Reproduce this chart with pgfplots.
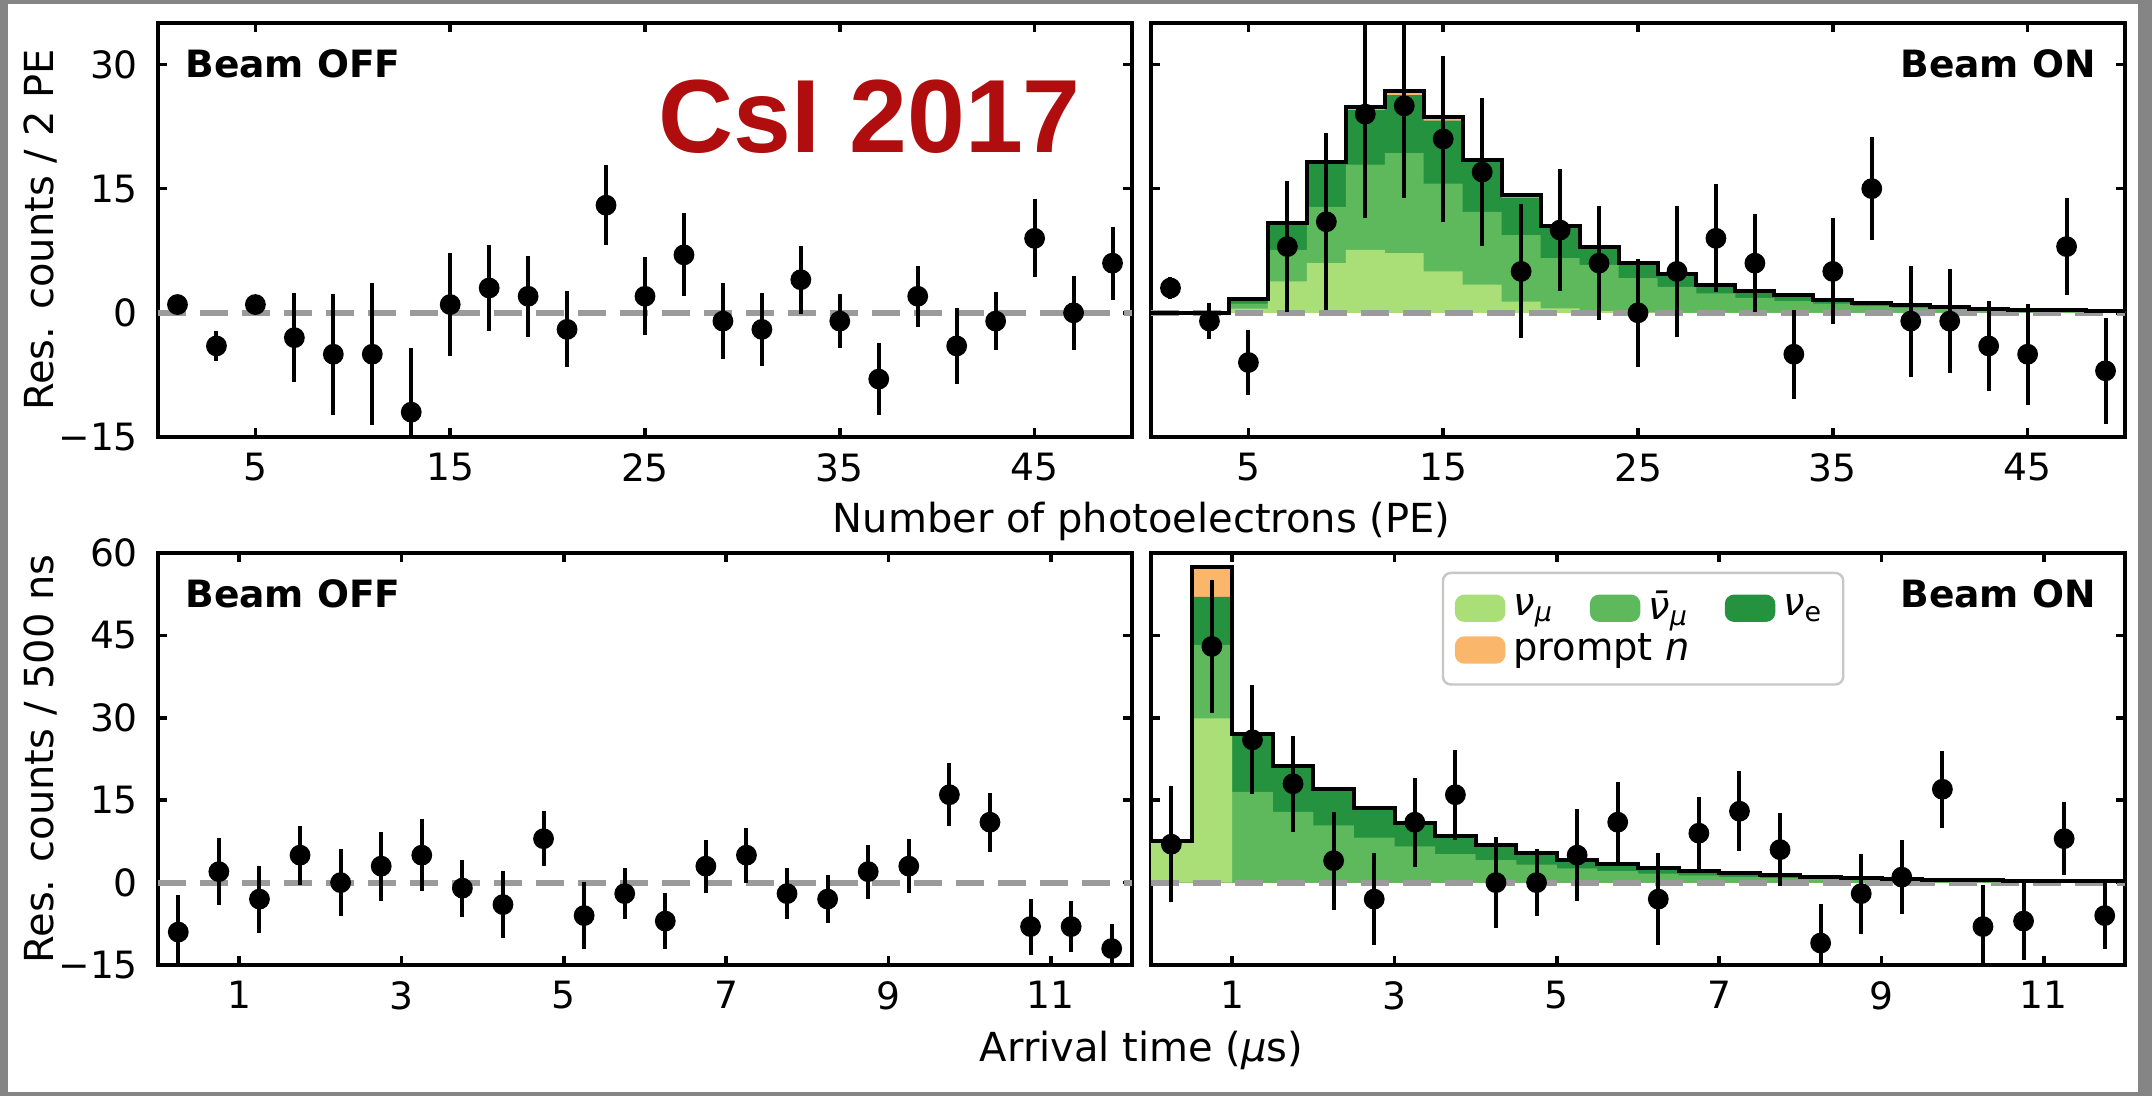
\documentclass[border=0pt]{standalone}
\usepackage{pgfplots}
\pgfplotsset{compat=1.18}
\usepackage{pgfplotstable}
\usepackage{fontspec}
\setmainfont{DejaVu Sans}
\newfontfamily\csifont{Liberation Sans}

\definecolor{clight}{RGB}{170,222,118}
\definecolor{cmed}{RGB}{94,185,92}
\definecolor{cdark}{RGB}{36,146,62}
\definecolor{corange}{RGB}{250,183,108}
\definecolor{csired}{RGB}{176,14,14}
\definecolor{zeroline}{RGB}{155,155,155}

% Beam OFF, PE
\pgfplotstableread{
x y e
1 1 0.8
3 -4 1.8
5 1 0.8
7 -3 5.4
9 -5 7.3
11 -5 8.6
13 -12 7.7
15 1 6.2
17 3 5.2
19 2 4.9
21 -2 4.6
23 13 4.8
25 2 4.7
27 7 5.0
29 -1 4.6
31 -2 4.4
33 4 4.1
35 -1 3.3
37 -8 4.4
39 2 3.7
41 -4 4.6
43 -1 3.5
45 9 4.7
47 0 4.5
49 6 4.4
}\offPE

% Beam ON, PE
\pgfplotstableread{
x y e
1 3 1.3
3 -1 2.2
5 -6 3.9
7 8 7.9
9 11 10.7
11 24 12.6
13 25 11.1
15 21 10.0
17 17 8.9
19 5 8.1
21 10 7.4
23 6 6.9
25 0 6.5
27 5 7.9
29 9 6.5
31 6 5.9
33 -5 5.4
35 5 6.4
37 15 6.2
39 -1 6.7
41 -1 6.3
43 -4 5.4
45 -5 6.1
47 8 5.9
49 -7 6.4
}\onPE

% Beam OFF, time
\pgfplotstableread{
x y e
0.25 -9 6.7
0.75 2 6.1
1.25 -3 6.1
1.75 5 5.4
2.25 0 6.1
2.75 3 6.3
3.25 5 6.5
3.75 -1 5.2
4.25 -4 6.1
4.75 8 5.0
5.25 -6 6.1
5.75 -2 4.6
6.25 -7 5.1
6.75 3 4.8
7.25 5 5.0
7.75 -2 4.7
8.25 -3 4.3
8.75 2 4.9
9.25 3 4.9
9.75 16 5.7
10.25 11 5.4
10.75 -8 5.1
11.25 -8 4.6
11.75 -12 4.5
}\offT

% Beam ON, time
\pgfplotstableread{
x y e
0.25 7 10.5
0.75 43 12.1
1.25 26 9.9
1.75 18 8.7
2.25 4 8.9
2.75 -3 8.4
3.25 11 8.1
3.75 16 8.2
4.25 0 8.3
4.75 0 6.1
5.25 5 8.4
5.75 11 7.4
6.25 -3 8.4
6.75 9 6.6
7.25 13 7.3
7.75 6 6.6
8.25 -11 7.1
8.75 -2 7.3
9.25 1 6.8
9.75 17 7.0
10.25 -8 7.5
10.75 -7 7.0
11.25 8 6.7
11.75 -6 6.0
}\onT

% stacked prediction, PE (cumulative tops of each layer, bin left edges)
\pgfplotstableread{
x L M D T
0 0 0 0 0
2 0 0 0 0
4 0.5 1.1 1.65 1.7
6 3.8 7.6 10.7 10.8
8 6.0 12.8 18.0 18.2
10 7.6 17.9 24.5 24.9
12 7.2 19.3 26.3 26.8
14 5.0 15.6 23.2 23.6
16 3.4 12.2 18.2 18.5
18 1.35 9.4 13.9 14.2
20 0.55 6.6 10.3 10.5
22 0.2 5.8 7.9 8.0
24 0.05 4.2 6.0 6.05
26 0 3.15 4.65 4.7
28 0 2.35 3.35 3.4
30 0 1.8 2.6 2.6
32 0 1.45 2.1 2.1
34 0 1.1 1.6 1.6
36 0 0.82 1.2 1.2
38 0 0.62 0.9 0.9
40 0 0.48 0.7 0.7
42 0 0.35 0.5 0.5
44 0 0.26 0.38 0.38
46 0 0.2 0.29 0.29
48 0 0.14 0.2 0.2
50 0 0.14 0.2 0.2
}\histPE

% stacked prediction, time
\pgfplotstableread{
x L M D T
0 7.6 7.6 7.6 7.6
0.5 29.9 43.3 52.0 57.4
1.0 0 16.5 27.0 27.0
1.5 0 12.9 21.2 21.2
2.0 0 10.4 17.0 17.0
2.5 0 8.2 13.5 13.5
3.0 0 6.6 10.8 10.8
3.5 0 5.2 8.5 8.5
4.0 0 4.1 6.8 6.8
4.5 0 3.3 5.4 5.4
5.0 0 2.6 4.2 4.2
5.5 0 2.1 3.4 3.4
6.0 0 1.65 2.7 2.7
6.5 0 1.3 2.1 2.1
7.0 0 1.05 1.7 1.7
7.5 0 0.82 1.35 1.35
8.0 0 0.64 1.05 1.05
8.5 0 0.52 0.85 0.85
9.0 0 0.41 0.67 0.67
9.5 0 0.32 0.53 0.53
10.0 0 0.26 0.42 0.42
10.5 0 0.2 0.33 0.33
11.0 0 0.16 0.26 0.26
11.5 0 0.13 0.21 0.21
12.0 0 0.13 0.21 0.21
}\histT

\pgfplotsset{
  panel/.style={
    scale only axis, width=243.5pt, height=103.5pt,
    anchor=south west,
    axis line style={line width=1pt},
    tick align=inside, xtick pos=both, ytick pos=both,
    major tick length=2.2pt,
    every tick/.style={black, line width=0.9pt},
    tick label style={font=\fontsize{9.4}{11}\selectfont},
    yticklabel style={xshift=-1.5pt},
    xticklabel style={yshift=-0.6pt},
  },
  pts/.style={only marks, mark=*, mark size=2.4pt, black, forget plot,
    mark options={draw=none, fill=black},
    error bars/.cd, y dir=both, y explicit, error mark=none,
    error bar style={line width=1pt, black}},
  zero/.style={zeroline, line width=1.5pt, dash pattern=on 7pt off 3.5pt, forget plot},
  layer/.style={ybar interval, fill=#1, draw=none, forget plot},
  outline/.style={const plot, black, line width=1pt, forget plot},
}

\begin{document}
\begin{tikzpicture}
\useasboundingbox (0pt,0pt) rectangle (538pt,-274pt);
\fill[black!48] (0pt,0pt) rectangle (538pt,-274pt);
\fill[white] (2pt,-1pt) rectangle (534.5pt,-273pt);

% ---- top left
\begin{axis}[panel, at={(39.5pt,-109.25pt)},
  xmin=0, xmax=50, ymin=-15, ymax=35,
  xtick={5,15,25,35,45}, xticklabels={5,15,25,35,45},
  ytick={-15,0,15,30}, yticklabels={−15,0,15,30}]
\addplot[zero] coordinates {(0,0) (50,0)};
\addplot[pts] table[x=x, y=y, y error=e] {\offPE};
\end{axis}

% ---- top right
\begin{axis}[panel, at={(287.75pt,-109.25pt)},
  xmin=0, xmax=50, ymin=-15, ymax=35,
  xtick={5,15,25,35,45}, xticklabels={5,15,25,35,45},
  ytick={-15,0,15,30}, yticklabels={}]
\addplot[layer=corange] table[x=x, y=T] {\histPE};
\addplot[layer=cdark] table[x=x, y=D] {\histPE};
\addplot[layer=cmed] table[x=x, y=M] {\histPE};
\addplot[layer=clight] table[x=x, y=L] {\histPE};
\addplot[zero] coordinates {(0,0) (50,0)};
\addplot[outline] table[x=x, y=T] {\histPE};
\addplot[pts] table[x=x, y=y, y error=e] {\onPE};
\end{axis}

% ---- bottom left
\begin{axis}[panel, height=103pt, at={(39.5pt,-241.25pt)},
  xmin=0, xmax=12, ymin=-15, ymax=60,
  xtick={1,3,5,7,9,11}, xticklabels={1,3,5,7,9,11},
  ytick={-15,0,15,30,45,60}, yticklabels={−15,0,15,30,45,60}]
\addplot[zero] coordinates {(0,0) (12,0)};
\addplot[pts] table[x=x, y=y, y error=e] {\offT};
\end{axis}

% ---- bottom right
\begin{axis}[panel, height=103pt, at={(287.75pt,-241.25pt)},
  xmin=0, xmax=12, ymin=-15, ymax=60,
  xtick={1,3,5,7,9,11}, xticklabels={1,3,5,7,9,11},
  ytick={-15,0,15,30,45,60}, yticklabels={},
  legend columns=3, legend cell align=left,
  legend style={at={(0.2985,0.9546)}, anchor=north west,
    draw=black!22, line width=0.6pt, rounded corners=2pt, fill=white,
    font=\fontsize{9.6}{11}\selectfont, inner xsep=3pt, inner ysep=2.5pt,
    row sep=-2pt,
    /tikz/every even column/.append style={column sep=7pt}}]
\addplot[layer=corange] table[x=x, y=T] {\histT};
\addplot[layer=cdark] table[x=x, y=D] {\histT};
\addplot[layer=cmed] table[x=x, y=M] {\histT};
\addplot[layer=clight] table[x=x, y=L] {\histT};
\addplot[zero] coordinates {(0,0) (12,0)};
\addplot[outline] table[x=x, y=T] {\histT};
\addplot[pts] table[x=x, y=y, y error=e] {\onT};
\addlegendimage{legend image code/.code={\fill[clight] (0pt,-3.1pt) rectangle (12pt,3.1pt);}}
\addlegendentry{{\itshape ν}\textsubscript{\itshape μ}}
\addlegendimage{legend image code/.code={\fill[cmed] (0pt,-3.1pt) rectangle (12pt,3.1pt);}}
\addlegendentry{{\itshape\=ν}\textsubscript{\itshape μ}}
\addlegendimage{legend image code/.code={\fill[cdark] (0pt,-3.1pt) rectangle (12pt,3.1pt);}}
\addlegendentry{{\itshape ν}\textsubscript{e}}
\addlegendimage{legend image code/.code={\fill[corange] (0pt,-3.1pt) rectangle (12pt,3.1pt);}}
\addlegendentry{\makebox[0pt][l]{prompt {\itshape n}}}
\end{axis}

% ---- texts
\node[anchor=base west, inner sep=0pt, font=\fontsize{9.4}{11}\selectfont\bfseries] at (46.15pt,-19.3pt) {Beam OFF};
\node[anchor=base east, inner sep=0pt, font=\fontsize{9.4}{11}\selectfont\bfseries] at (524.1pt,-19.3pt) {Beam ON};
\node[anchor=base west, inner sep=0pt, font=\fontsize{9.4}{11}\selectfont\bfseries] at (46.15pt,-151.9pt) {Beam OFF};
\node[anchor=base east, inner sep=0pt, font=\fontsize{9.4}{11}\selectfont\bfseries] at (524.1pt,-151.9pt) {Beam ON};

\node[anchor=base west, inner sep=0pt, text=csired, font=\csifont\bfseries\fontsize{26}{30}\selectfont] at (164.5pt,-38pt) {CsI 2017};

\node[rotate=90, anchor=base, inner sep=0pt, font=\fontsize{10}{12}\selectfont] at (13.25pt,-57.5pt) {Res. counts / 2 PE};
\node[rotate=90, anchor=base, inner sep=0pt, font=\fontsize{10}{12}\selectfont] at (13.25pt,-189.75pt) {Res. counts / 500 ns};
\node[anchor=base, inner sep=0pt, font=\fontsize{10}{12}\selectfont] at (285.4pt,-133pt) {Number of photoelectrons (PE)};
\node[anchor=base, inner sep=0pt, font=\fontsize{10}{12}\selectfont] at (285.4pt,-265.3pt) {Arrival time ({\itshape μ}s)};
\end{tikzpicture}
\end{document}
